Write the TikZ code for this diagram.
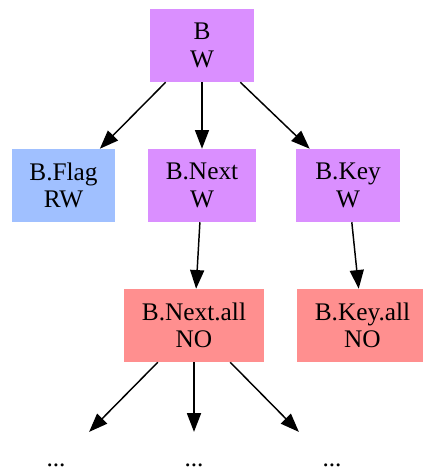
\documentclass[tikz,border=0pt]{standalone}
\usepackage{fontspec}
\setmainfont{Liberation Serif}
\usetikzlibrary{arrows.meta}
\definecolor{wcol}{RGB}{218,143,255}
\definecolor{rwcol}{RGB}{160,192,255}
\definecolor{nocol}{RGB}{255,143,143}

\begin{document}
\begin{tikzpicture}[x=0.75pt, y=0.75pt,
  box/.style={inner sep=0pt, minimum height=54.75pt, align=center, font=\fontsize{19}{20.5}\selectfont},
  accW/.style={box, fill=wcol},
  accRW/.style={box, fill=rwcol},
  accNO/.style={box, fill=nocol},
  more/.style={inner sep=0pt, minimum width=75pt, minimum height=50pt, font=\fontsize{19}{20.5}\selectfont},
  link/.style={line width=1.1pt, -{Triangle[length=14pt,width=10.5pt]}}
]
\useasboundingbox (0,0) rectangle (422,475);

%% B
\node[accW, minimum width=78pt] (b) at (202,429.5) {B\\W};

%% fields of B
\node[accRW, minimum width=77.25pt] (flag) at (63.5,289.5) {B.Flag\\RW};
\node[accW, minimum width=81pt] (next) at (202,289.5) {B.Next\\W};
\node[accW, minimum width=78pt] (key) at (348,289.5) {B.Key\\W};

%% .all
\node[accNO, minimum width=105pt] (nextall) at (194,149.5) {B.Next.all\\NO};
\node[accNO, minimum width=98.25pt] (keyall) at (362.5,149.5) {B.Key.all\\NO};

%% others
\node[more] (dotsA) at (56,9.5) {...};
\node[more] (dotsB) at (194,9.5) {...};
\node[more] (dotsC) at (332,9.5) {...};

\draw[link] (b) -- (flag);
\draw[link] (b) -- (next);
\draw[link] (b) -- (key);
\draw[link] (next) -- (nextall);
\draw[link] (key) -- (keyall);
\draw[link] (nextall) -- (dotsA);
\draw[link] (nextall) -- (dotsB);
\draw[link] (nextall) -- (dotsC);
\end{tikzpicture}
\end{document}
